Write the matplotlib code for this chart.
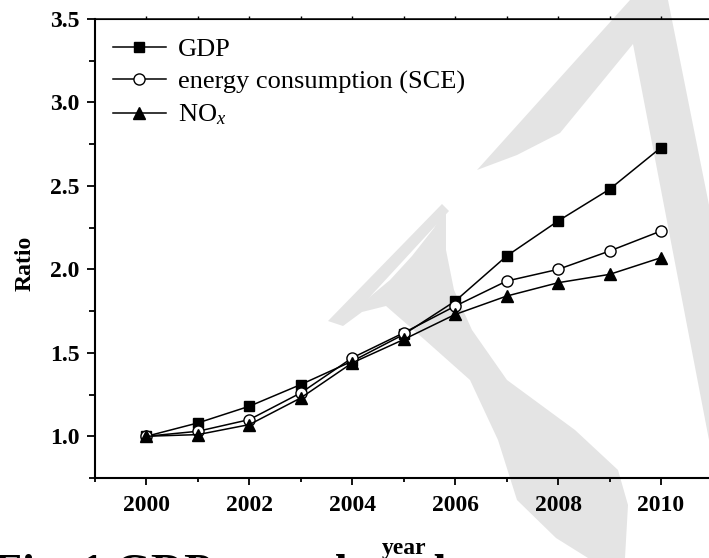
import matplotlib
matplotlib.use('Agg')
import matplotlib.pyplot as plt
from matplotlib.patches import Polygon
from matplotlib.ticker import MultipleLocator, FormatStrFormatter

plt.rcParams['font.family'] = 'Liberation Serif'
plt.rcParams['mathtext.fontset'] = 'custom'
plt.rcParams['mathtext.rm'] = 'Liberation Serif'
plt.rcParams['mathtext.it'] = 'Liberation Serif:italic'

# данные
years = [2000, 2001, 2002, 2003, 2004, 2005, 2006, 2007, 2008, 2009, 2010]
gdp = [1.00, 1.08, 1.18, 1.31, 1.45, 1.61, 1.81, 2.08, 2.29, 2.48, 2.73]
sce = [1.00, 1.03, 1.10, 1.26, 1.47, 1.62, 1.78, 1.93, 2.00, 2.11, 2.23]
nox = [1.00, 1.01, 1.07, 1.23, 1.44, 1.58, 1.73, 1.84, 1.92, 1.97, 2.07]
labels = ['GDP', 'energy consumption (SCE)', r'NO$_{x}$']

W, H = 709, 558
fig = plt.figure(figsize=(W / 100, H / 100), dpi=100)

# водяной знак (серый), координаты в пикселях картинки
bg = fig.add_axes([0, 0, 1, 1], zorder=0)
bg.set_xlim(0, W)
bg.set_ylim(H, 0)
bg.axis('off')
gray = '#e4e4e4'
# тонкая левая черта
bg.add_patch(Polygon([(328, 321), (343, 326), (449, 211), (442, 204)], color=gray, lw=0))
# верхняя диагональ и правая черта
bg.add_patch(Polygon([(477, 170), (630, 0), (668, 0), (709, 205), (709, 440),
                      (633, 44), (560, 133), (517, 155)], color=gray, lw=0))
# S-образная кривая
bg.add_patch(Polygon([(446, 208), (434, 228), (412, 256), (390, 280), (366, 300),
                      (350, 314), (343, 326), (362, 312), (386, 306), (425, 340),
                      (470, 380), (498, 440), (517, 500), (556, 538), (588, 558),
                      (625, 558), (628, 505), (618, 470), (575, 430), (507, 380),
                      (472, 330), (454, 290), (446, 250)],
                     color=gray, lw=0))

ax = fig.add_axes([95 / W, 1 - 478 / H, 617.5 / W, 459 / H], zorder=1)
ax.patch.set_alpha(0)

ax.plot(years, gdp, '-s', color='k', lw=1.1, ms=7, mfc='k', mec='k', label=labels[0])
ax.plot(years, sce, '-o', color='k', lw=1.1, ms=8, mfc='white', mec='k', mew=1.0, label=labels[1])
ax.plot(years, nox, '-^', color='k', lw=1.1, ms=8.5, mfc='k', mec='k', label=labels[2])

ax.set_xlim(1999, 2011)
ax.set_ylim(0.75, 3.5)
ax.xaxis.set_major_locator(MultipleLocator(2))
ax.xaxis.set_minor_locator(MultipleLocator(1))
ax.yaxis.set_major_locator(MultipleLocator(0.5))
ax.yaxis.set_minor_locator(MultipleLocator(0.25))
ax.yaxis.set_major_formatter(FormatStrFormatter('%.1f'))

for s in ['left', 'bottom']:
    ax.spines[s].set_linewidth(1.5)
ax.spines['top'].set_linewidth(1.1)
ax.tick_params(axis='x', which='major', direction='out', length=5, width=1.3, pad=7,
               labelsize=17)
ax.tick_params(axis='x', which='minor', direction='out', length=3, width=1.3)
ax.tick_params(axis='y', which='major', direction='out', length=6, width=1.3, pad=5,
               labelsize=17)
ax.tick_params(axis='y', which='minor', direction='out', length=4, width=1.3)
for t in ax.get_xticklabels() + ax.get_yticklabels():
    t.set_fontweight('bold')

top = ax.secondary_xaxis('top')
top.set_xticks(years)
top.tick_params(direction='out', length=2.5, width=1.0, labeltop=False)

ax.set_ylabel('Ratio', fontsize=17, fontweight='bold')
ax.yaxis.set_label_coords(-0.113, 0.468)
ax.yaxis.label.set_va('center')
ax.set_xlabel('year', fontsize=17, fontweight='bold')
ax.xaxis.set_label_coords(0.5, -0.131)

ax.legend(loc='upper left', bbox_to_anchor=(113 / W, 1 - 38 / H),
          bbox_transform=fig.transFigure, frameon=False, fontsize=19,
          handlelength=2.0, handletextpad=0.45, labelspacing=0.33,
          borderpad=0, borderaxespad=0)

fig.text(-6 / W, 1 - 586 / H, 'Fig. 1 GDP growth and energy consumption',
         fontsize=33, fontweight='bold', va='baseline', ha='left')

fig.savefig('out.png', dpi=100)
